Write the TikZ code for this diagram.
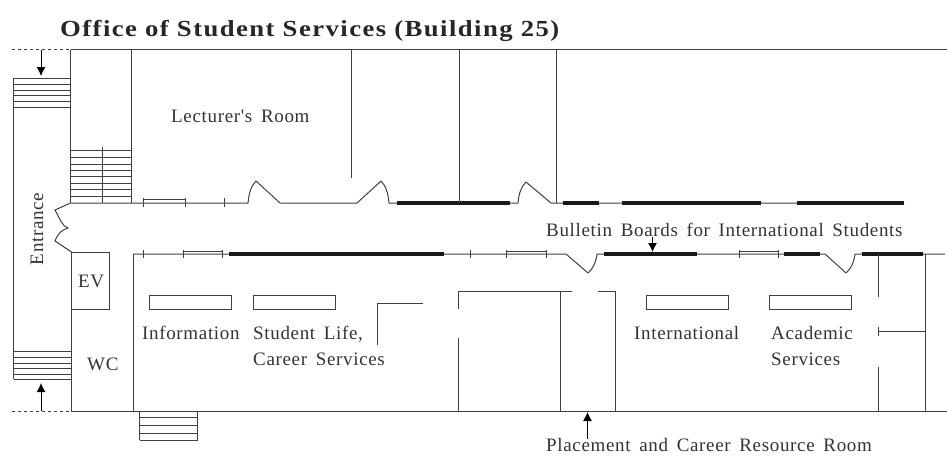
\documentclass[tikz,border=0pt]{standalone}
\usepackage{fontspec}
\setmainfont{Liberation Serif}
\newfontfamily\labelfont[LetterSpace=3.5,WordSpace=1.6]{Liberation Serif}
\newfontfamily\titlefont[LetterSpace=6.3,FakeStretch=1.16]{Liberation Serif}
\usetikzlibrary{arrows.meta}
\definecolor{wallgray}{gray}{0.25}
\tikzset{
  wall/.style={draw=wallgray, line width=1pt},
  board/.style={draw=black!90, line width=4pt},
  flow/.style={-{Latex[length=9pt,width=9pt]}, black, line width=1pt},
  roomlabel/.style={anchor=base west, inner sep=0pt, text=black!80, font=\fontsize{19}{21}\selectfont\labelfont},
}
\begin{document}
\begin{tikzpicture}[x=1pt, y=-1pt]
  \useasboundingbox (0,0) rectangle (947,459);

  \node[anchor=base west, inner sep=0pt, font=\fontsize{23}{25}\selectfont\bfseries\titlefont, text=black!85] (title) at (60,36) {Office of Student Services (Building 25)};

  % outer walls
  \draw[wall] (70.5,49.5) -- (947,49.5);
  \draw[wall] (71,411) -- (947,411);
  \draw[wall, dashed] (12,49.5) -- (70.5,49.5);
  \draw[wall, dashed] (12,411) -- (71,411);
  \draw[wall] (13.5,78) -- (13.5,379);
  \draw[wall] (70.5,49.5) -- (70.5,203);
  \draw[wall] (71.5,252) -- (71.5,411);
  \draw[wall] (131,49.5) -- (131,203);
  \draw[wall] (133,254) -- (133,411);
  \draw[flow] (41,49.5) -- (41,76);
  \draw[flow] (41,411) -- (41,383);

  % stairs
  \foreach \y in {78.5,84.3,90,95.7,101.7,107.3} \draw[wall] (13.5,\y) -- (70.5,\y);
  \foreach \y in {351.3,357.3,363,368.7,374.3,379.3} \draw[wall] (13.5,\y) -- (71.5,\y);
  \foreach \y in {150.7,157.3,164,170.3,176.7,183.3,189.7,196} \draw[wall] (70.5,\y) -- (131,\y);
  \draw[wall] (102,147) -- (102,203);
  \foreach \y in {417.7,425.3,433,440} \draw[wall] (139.5,\y) -- (197.5,\y);
  \draw[wall] (139.5,411) -- (139.5,440);
  \draw[wall] (197.5,411) -- (197.5,440);

  % entrance doors
  \draw[wall] (70.5,203) -- (55,210) .. controls (60,219) and (62,226) .. (68,228)
    .. controls (62,230) and (58,233) .. (55,241) -- (71.5,252);

  % upper corridor wall
  \draw[wall] (70.5,203) -- (248,203) .. controls (249,193) and (251,186) .. (256,181)
    -- (280,203) -- (357,203) -- (381,181) .. controls (386,186) and (388,193) .. (389,203)
    -- (518,203) .. controls (519,193) and (521,187) .. (526,182) -- (551,203) -- (904,203);
  \foreach \x in {143,185,224} \draw[wall] (\x,198) -- (\x,207);
  \draw[wall] (143,199) -- (185,199);
  \draw[board] (397,203) -- (510,203);
  \draw[board] (563,203) -- (599,203);
  \draw[board] (622,203) -- (761,203);
  \draw[board] (797,203) -- (904,203);

  % lower corridor wall
  \draw[wall] (133,254) -- (566,254) -- (588,273) .. controls (593,269) and (596,262) .. (597,254)
    -- (825,254) -- (846,273) .. controls (851,269) and (854,262) .. (855,254) -- (945,254);
  \foreach \x in {143,183,222,470,506,546,739,778} \draw[wall] (\x,250) -- (\x,258);
  \draw[wall] (183,251) -- (222,251);
  \draw[wall] (506,251) -- (546,251);
  \draw[wall] (739,251) -- (778,251);
  \draw[board] (229,254) -- (444,254);
  \draw[board] (604,254) -- (697,254);
  \draw[board] (784,254) -- (820,254);
  \draw[board] (862,254) -- (923,254);
  \draw[flow] (652.5,237) -- (652.5,252);

  % upper partitions
  \draw[wall] (351,49.5) -- (351,178);
  \draw[wall] (459,49.5) -- (459,203);
  \draw[wall] (556,49.5) -- (556,203);

  % lift and counters
  \draw[wall] (71.5,252.5) rectangle (109.5,309);
  \foreach \x in {149,253,646,769} \draw[wall] (\x,295.5) rectangle +(82.7,13.5);

  % lower partitions
  \draw[wall] (422.5,303) -- (377,303) -- (377,345);
  \draw[wall] (458,309) -- (458,291) -- (572,291);
  \draw[wall] (458,338) -- (458,411);
  \draw[wall] (598,291) -- (615,291) -- (615,411);
  \draw[wall] (560,291) -- (560,411);
  \draw[wall] (878,254) -- (878,297);
  \draw[wall] (878,327) -- (878,336);
  \draw[wall] (878,331) -- (925,331);
  \draw[wall] (878,367) -- (878,411);
  \draw[wall] (925,254) -- (925,411);
  \draw[flow] (587.5,439) -- (587.5,412);

  % labels
  \node[roomlabel] (lecturer) at (171,122) {Lecturer's Room};
  \node[roomlabel, anchor=center, rotate=90] (entrance) at (37,229) {Entrance};
  \node[roomlabel] (ev) at (78,287) {EV};
  \node[roomlabel] (wc) at (87,370) {WC};
  \node[roomlabel] (information) at (142,339) {Information};
  \node[roomlabel] (studentlife) at (253,339) {Student Life,};
  \node[roomlabel] (career) at (253,365) {Career Services};
  \node[roomlabel] (international) at (634,339) {International};
  \node[roomlabel] (academic) at (771,339) {Academic};
  \node[roomlabel] (services) at (771,365) {Services};
  \node[roomlabel] (bulletin) at (546,236) {Bulletin Boards for International Students};
  \node[roomlabel] (placement) at (546,451) {Placement and Career Resource Room};
\end{tikzpicture}
\end{document}
